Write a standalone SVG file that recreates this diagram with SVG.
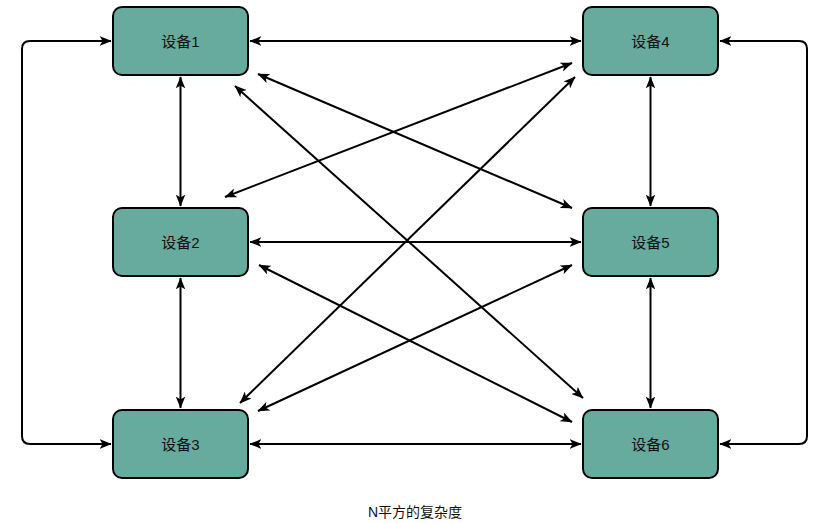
<svg xmlns="http://www.w3.org/2000/svg" width="820" height="523" viewBox="0 0 820 523">
<style>
.node rect{fill:#67AB9F;stroke:#000;stroke-width:2}
.node text{font-family:"Liberation Sans","Noto Sans CJK SC",sans-serif;font-size:15px;fill:#111;text-anchor:middle;dominant-baseline:central}
.conn path,.conn line{fill:none;stroke:#000;stroke-width:2;marker-start:url(#arr);marker-end:url(#arr)}
.cap{font-family:"Liberation Sans","Noto Sans CJK SC",sans-serif;font-size:14px;fill:#111;text-anchor:middle}
</style>
<defs>
<marker id="arr" viewBox="0 0 10 8" markerWidth="12" markerHeight="10" refX="9.5" refY="4" orient="auto-start-reverse" markerUnits="userSpaceOnUse">
<path d="M0,0 L10,4 L0,8 L2.5,4 Z" fill="#000"/>
</marker>
</defs>
<rect width="820" height="523" fill="#fff"/>
<g class="conn" id="connectors">
<line x1="250" y1="41" x2="581" y2="41"/>
<line x1="250" y1="242" x2="581" y2="242"/>
<line x1="250" y1="444" x2="581" y2="444"/>
<line x1="180.5" y1="77" x2="180.5" y2="206"/>
<line x1="180.5" y1="278" x2="180.5" y2="408"/>
<line x1="650.5" y1="77" x2="650.5" y2="206"/>
<line x1="650.5" y1="278" x2="650.5" y2="408"/>
<path d="M111,41 H30 Q22,41 22,49 V436 Q22,444 30,444 H111"/>
<path d="M720,41 H799 Q807,41 807,49 V436 Q807,444 799,444 H720"/>
<line x1="258" y1="74" x2="572" y2="208"/>
<line x1="235" y1="86" x2="583" y2="398"/>
<line x1="225" y1="197" x2="572" y2="63"/>
<line x1="240" y1="403" x2="575" y2="77"/>
<line x1="259" y1="265" x2="572" y2="422"/>
<line x1="258" y1="411" x2="572" y2="265"/>
</g>
<g class="node" id="node1"><rect x="113" y="7" width="135" height="68" rx="9"/><text x="180.5" y="41">设备1</text></g>
<g class="node" id="node4"><rect x="583" y="7" width="135" height="68" rx="9"/><text x="650.5" y="41">设备4</text></g>
<g class="node" id="node2"><rect x="113" y="208" width="135" height="68" rx="9"/><text x="180.5" y="242">设备2</text></g>
<g class="node" id="node5"><rect x="583" y="208" width="135" height="68" rx="9"/><text x="650.5" y="242">设备5</text></g>
<g class="node" id="node3"><rect x="113" y="410" width="135" height="68" rx="9"/><text x="180.5" y="444">设备3</text></g>
<g class="node" id="node6"><rect x="583" y="410" width="135" height="68" rx="9"/><text x="650.5" y="444">设备6</text></g>
<text class="cap" x="415" y="517">N平方的复杂度</text>
</svg>
